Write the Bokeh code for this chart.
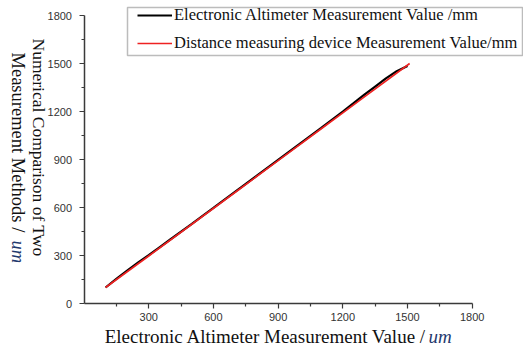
import math
from bokeh.plotting import figure
from bokeh.models import Range1d, Label, Legend, LegendItem, FixedTicker, BoxAnnotation
from bokeh.embed import file_html
from bokeh.resources import INLINE

# ---- data ----
alt_x = [100, 150, 200, 250, 300, 350, 400, 500, 600, 700, 800, 900, 1000, 1100, 1200, 1250, 1300, 1350, 1400, 1450, 1500]
alt_y = [100, 154, 206, 255, 302, 351, 400, 498, 597, 697, 797, 897, 997, 1097, 1200, 1252, 1305, 1356, 1407, 1452, 1485]
dist_x = [100, 300, 500, 700, 900, 1100, 1300, 1510]
dist_y = [100, 297, 495, 694, 893, 1092, 1291, 1500]
ticks = [0, 300, 600, 900, 1200, 1500, 1800]
minor = [150, 450, 750, 1050, 1350, 1650]
legend_labels = ["Electronic Altimeter Measurement Value /mm",
                 "Distance measuring device Measurement Value/mm"]
xlabel_main = "Electronic Altimeter Measurement Value /"
ylabel_line1 = "Numerical Comparison of Two"
ylabel_line2 = "Measurement Methods /"
unit = "um"

SERIF = "Liberation Serif"
SANS = "Liberation Sans"
NAVY = "#1F3A6E"

W, H = 523, 347
# frame covers whole canvas; x=0 at px 83.5, 64.7 px per 300 ; y=0 at px 303, 48 px per 300
XPX = 300 / 64.7
YPX = 300 / 48.0
X0 = 83.5
Y0 = 303.0
x_start = -X0 * XPX
x_end = (W - X0) * XPX
y_start = -(H - Y0) * YPX
y_end = Y0 * YPX

p = figure(width=W, height=H, output_backend="svg", toolbar_location=None,
           x_range=Range1d(x_start, x_end), y_range=Range1d(y_start, y_end),
           min_border=0)
p.outline_line_color = None
p.xgrid.visible = False
p.ygrid.visible = False
p.background_fill_color = "white"
p.border_fill_color = "white"

for ax in (p.xaxis[0], p.yaxis[0]):
    ax.fixed_location = 0
    ax.bounds = (0, 1800)
    ax.axis_line_color = "#3a3a3a"
    ax.axis_line_width = 1.5
    ax.major_tick_line_color = "#3a3a3a"
    ax.minor_tick_line_color = "#3a3a3a"
    ax.major_tick_line_width = 1.2
    ax.minor_tick_line_width = 1.2
    ax.major_tick_in = 0
    ax.major_tick_out = 5
    ax.minor_tick_in = 0
    ax.minor_tick_out = 3
    ax.major_label_text_font = SANS
    ax.major_label_text_font_size = "11px"
    ax.major_label_text_color = "#333333"
p.yaxis[0].ticker = FixedTicker(ticks=ticks, minor_ticks=minor)
p.xaxis[0].ticker = FixedTicker(ticks=ticks[1:], minor_ticks=minor)
p.yaxis[0].major_label_standoff = 7
p.xaxis[0].major_label_standoff = 4

r_black = p.line(alt_x, alt_y, line_color="black", line_width=2.2)
r_red = p.line(dist_x, dist_y, line_color="#ee2222", line_width=1.7)

def dx(px):  # canvas px -> data x
    return (px - X0) * XPX

def dy(py):  # canvas py -> data y
    return (Y0 - py) * YPX

# legend frame
p.add_layout(BoxAnnotation(left=dx(127), right=dx(522), top=dy(7), bottom=dy(55),
                           fill_color="white", fill_alpha=1,
                           line_color="#222222", line_width=1.5, level="underlay"))

legend = Legend(items=[LegendItem(label=legend_labels[0], renderers=[r_black]),
                       LegendItem(label=legend_labels[1], renderers=[r_red])],
                location=(137, H - 53), orientation="vertical",
                label_text_font=SERIF, label_text_font_size="16.5px", label_text_color="#111111",
                glyph_width=35, glyph_height=20, label_height=20, label_standoff=2,
                spacing=8, padding=0, margin=0,
                border_line_color=None, background_fill_alpha=0)
p.add_layout(legend, "center")

# x axis title
p.add_layout(Label(x=dx(426), y=dy(336), text=xlabel_main, text_align="right", text_baseline="middle",
                   text_font=SERIF, text_font_size="19px", text_color="#111111"))
p.add_layout(Label(x=dx(428), y=dy(336), text=unit, text_align="left", text_baseline="middle",
                   text_font=SERIF, text_font_size="19px", text_font_style="italic", text_color=NAVY))

# y axis title (two lines, reading top to bottom)
p.add_layout(Label(x=dx(38), y=dy(38), text=ylabel_line1, angle=-math.pi / 2, text_align="left",
                   text_baseline="middle", text_font=SERIF, text_font_size="17.5px", text_color="#111111"))
p.add_layout(Label(x=dx(17), y=dy(52), text=ylabel_line2, angle=-math.pi / 2, text_align="left",
                   text_baseline="middle", text_font=SERIF, text_font_size="18.5px", text_color="#111111"))
p.add_layout(Label(x=dx(17), y=dy(240), text=unit, angle=-math.pi / 2, text_align="left",
                   text_baseline="middle", text_font=SERIF, text_font_size="18.5px", text_font_style="italic",
                   text_color=NAVY))

open("out.html", "w").write(file_html(p, INLINE))
